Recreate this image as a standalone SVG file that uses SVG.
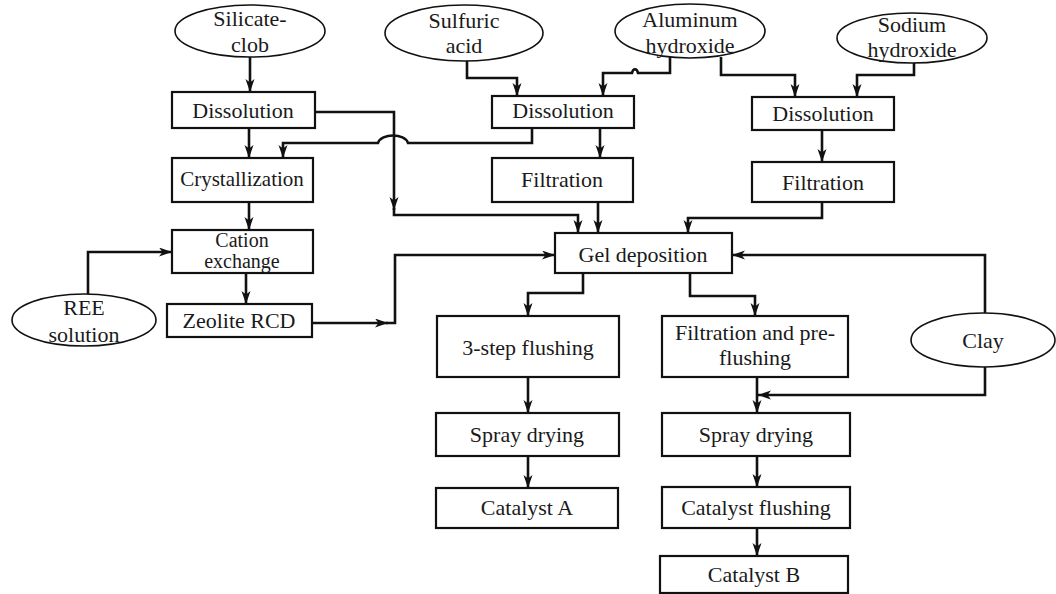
<svg xmlns="http://www.w3.org/2000/svg" width="1056" height="594" viewBox="0 0 1056 594" font-family="Liberation Serif, Times New Roman, serif">
  <style>
    .box { fill: #fff; stroke: #111; stroke-width: 2.2; }
    .src { fill: #fff; stroke: #111; stroke-width: 1.6; }
    text { font-family: 'Liberation Serif', 'Times New Roman', Times, serif; font-size: 22px; fill: #1a1a1a; text-anchor: middle; }
    .sm { font-size: 20px; }
    .md { font-size: 21px; }
    .wire { fill: none; stroke: #111; stroke-width: 2.6; stroke-linejoin: miter; }
    .arr { marker-end: url(#head); }
  </style>
  <defs>
    <marker id="head" markerUnits="userSpaceOnUse" markerWidth="14" markerHeight="10" refX="13" refY="4.5" orient="auto">
      <path d="M0,0 L13,4.5 L0,9 L3.5,4.5 Z" fill="#111"/>
    </marker>
  </defs>
  <rect width="1056" height="594" fill="#fff"/>

  <!-- connectors -->
  <g id="connectors">
    <path class="wire arr" d="M250,57 V92"/>
    <path class="wire arr" d="M249,128 V158"/>
    <path class="wire arr" d="M249,202 V230"/>
    <path class="wire arr" d="M246,273 V304"/>
    <path class="wire arr" d="M88,294 V252 H172"/>
    <path class="wire arr" d="M312,323 H388"/>
    <path class="wire arr" d="M386,323 H395 V255 H555"/>
    <path class="wire arr" d="M315,112 H394 V210"/>
    <path class="wire arr" d="M394,208 V215 H578 V233"/>
    <path class="wire arr" d="M532,128 V143 H408 C405,133 381,133 378,143 H283 V158"/>
    <path class="wire arr" d="M600,128 V158"/>
    <path class="wire arr" d="M598,202 V233"/>
    <path class="wire arr" d="M822,202 V218 H688 V233"/>
    <path class="wire arr" d="M467,61 V78 H517 V96"/>
    <path class="wire arr" d="M670,57 V73 H638 C637,68 633,68 632,73 H603 V96"/>
    <path class="wire arr" d="M721,57 V75 H795 V97"/>
    <path class="wire arr" d="M914,63 V75 H857 V97"/>
    <path class="wire arr" d="M822,130 V162"/>
    <path class="wire arr" d="M583,273 V293 H528 V316"/>
    <path class="wire arr" d="M690,273 V296 H755 V316"/>
    <path class="wire arr" d="M528,377 V413"/>
    <path class="wire arr" d="M528,456 V488"/>
    <path class="wire arr" d="M757,377 V413"/>
    <path class="wire arr" d="M985,313 V255 H732"/>
    <path class="wire arr" d="M985,367 V395 H758"/>
    <path class="wire arr" d="M757,456 V487"/>
    <path class="wire arr" d="M757,528 V556"/>
  </g>

  <!-- raw material inputs -->
  <g id="silicate">
    <ellipse class="src" cx="250" cy="31" rx="75" ry="26"/>
    <text x="250" y="26">Silicate-</text>
    <text x="250" y="52">clob</text>
  </g>
  <g id="sulfuric">
    <ellipse class="src" cx="464" cy="33" rx="79" ry="28"/>
    <text x="464" y="28">Sulfuric</text>
    <text x="464" y="53">acid</text>
  </g>
  <g id="aluminum">
    <ellipse class="src" cx="690" cy="31" rx="75" ry="27"/>
    <text x="690" y="27">Aluminum</text>
    <text x="690" y="53">hydroxide</text>
  </g>
  <g id="sodium">
    <ellipse class="src" cx="912" cy="38" rx="75" ry="25"/>
    <text x="912" y="32">Sodium</text>
    <text x="912" y="57">hydroxide</text>
  </g>
  <g id="ree">
    <ellipse class="src" cx="84" cy="320" rx="72" ry="26"/>
    <text x="84" y="315">REE</text>
    <text x="84" y="342">solution</text>
  </g>
  <g id="clay">
    <ellipse class="src" cx="983" cy="340" rx="72" ry="27"/>
    <text x="983" y="348">Clay</text>
  </g>

  <!-- zeolite line -->
  <g id="dissolution-1">
    <rect class="box" x="172" y="92" width="143" height="36"/>
    <text x="243" y="118">Dissolution</text>
  </g>
  <g id="crystallization">
    <rect class="box" x="172" y="158" width="141" height="44"/>
    <text class="md" x="242" y="186">Crystallization</text>
  </g>
  <g id="cation-exchange">
    <rect class="box" x="172" y="230" width="141" height="43"/>
    <text class="sm" x="242" y="247">Cation</text>
    <text class="sm" x="242" y="268">exchange</text>
  </g>
  <g id="zeolite">
    <rect class="box" x="167" y="304" width="145" height="33"/>
    <text x="239" y="328">Zeolite RCD</text>
  </g>

  <!-- acid / alumina line -->
  <g id="dissolution-2">
    <rect class="box" x="492" y="96" width="142" height="32"/>
    <text x="563" y="118">Dissolution</text>
  </g>
  <g id="filtration-2">
    <rect class="box" x="492" y="158" width="141" height="44"/>
    <text x="562" y="187">Filtration</text>
  </g>

  <!-- caustic line -->
  <g id="dissolution-3">
    <rect class="box" x="752" y="97" width="142" height="33"/>
    <text x="823" y="121">Dissolution</text>
  </g>
  <g id="filtration-3">
    <rect class="box" x="752" y="162" width="142" height="40"/>
    <text x="823" y="190">Filtration</text>
  </g>

  <!-- gel and finishing -->
  <g id="gel">
    <rect class="box" x="555" y="233" width="177" height="40"/>
    <text x="643" y="262">Gel deposition</text>
  </g>
  <g id="three-step">
    <rect class="box" x="437" y="316" width="182" height="61"/>
    <text x="528" y="355">3-step flushing</text>
  </g>
  <g id="filtration-pre">
    <rect class="box" x="662" y="316" width="186" height="61"/>
    <text x="755" y="340">Filtration and pre-</text>
    <text x="755" y="365">flushing</text>
  </g>
  <g id="spray-a">
    <rect class="box" x="436" y="413" width="183" height="43"/>
    <text x="527" y="442">Spray drying</text>
  </g>
  <g id="catalyst-a">
    <rect class="box" x="436" y="488" width="182" height="40"/>
    <text x="527" y="515">Catalyst A</text>
  </g>
  <g id="spray-b">
    <rect class="box" x="662" y="413" width="188" height="43"/>
    <text x="756" y="442">Spray drying</text>
  </g>
  <g id="catalyst-flushing">
    <rect class="box" x="662" y="487" width="188" height="41"/>
    <text x="756" y="515">Catalyst flushing</text>
  </g>
  <g id="catalyst-b">
    <rect class="box" x="660" y="556" width="188" height="37"/>
    <text x="754" y="582">Catalyst B</text>
  </g>
</svg>
